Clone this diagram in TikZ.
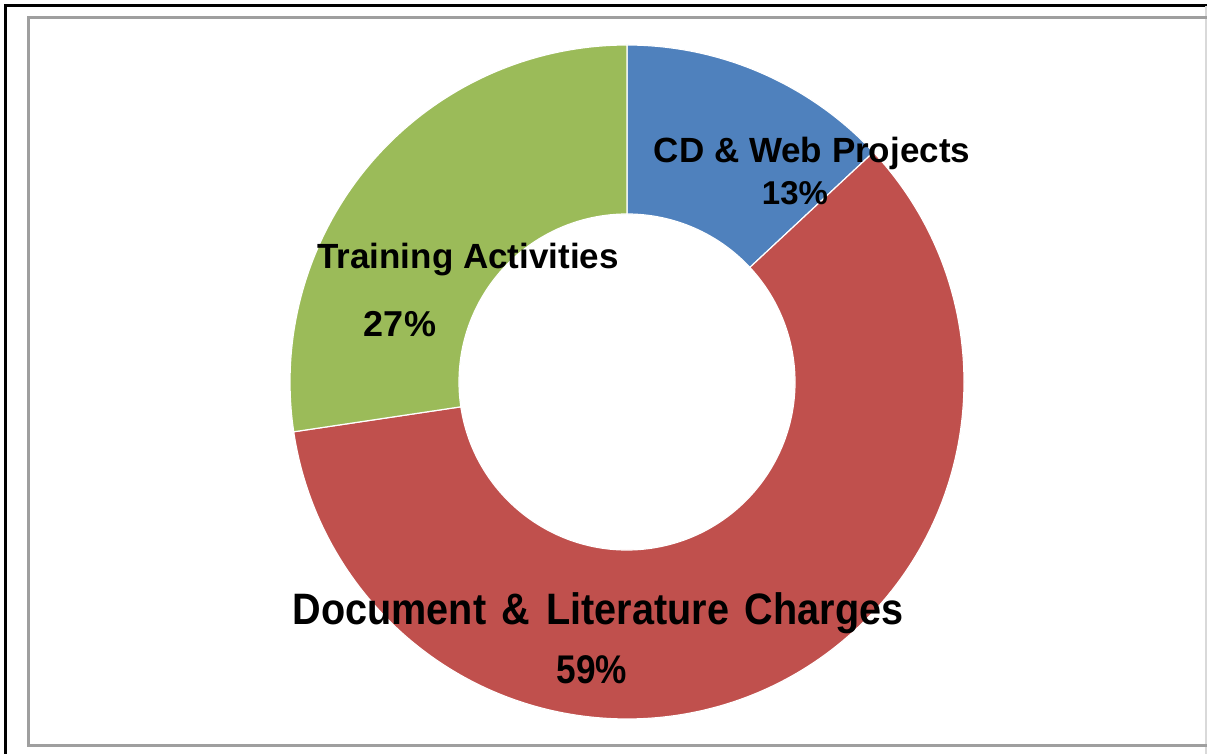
\documentclass[tikz,border=0pt]{standalone}
\usepackage{fontspec}
\setmainfont{Liberation Sans}
\usetikzlibrary{calc}

\definecolor{cdblue}{HTML}{4F81BD}
\definecolor{docred}{HTML}{C0504D}
\definecolor{traingreen}{HTML}{9BBB59}

\tikzset{
  lbl/.style={inner sep=0pt, font=\bfseries},
  slice/.style={draw=white, line width=0.6pt}
}

\begin{document}
\begin{tikzpicture}[x=0.5pt, y=0.5pt]
    \useasboundingbox (0,0) rectangle (1207,754);
    % frames
    \draw[line width=1.5pt] (1207,748) -- (5,748) -- (5,0);
    \draw[gray!30, line width=1pt] (1206,748) -- (1206,0);
    \draw[gray!75, line width=1.5pt] (1207,736) -- (28,736) -- (28,8) -- (1207,8);
    \coordinate (c) at (627,372);
    % ring
    \begin{scope}
      \fill[cdblue, slice] (c) ++(90:337) arc[start angle=90, end angle=43, radius=337]
        -- ($(c)+(43:168)$) arc[start angle=43, end angle=90, radius=168] -- cycle;
      \fill[docred, slice] (c) ++(43:337) arc[start angle=43, end angle=-171.5, radius=337]
        -- ($(c)+(-171.5:168)$) arc[start angle=-171.5, end angle=43, radius=168] -- cycle;
      \fill[traingreen, slice] (c) ++(188.5:337) arc[start angle=188.5, end angle=90, radius=337]
        -- ($(c)+(90:168)$) arc[start angle=90, end angle=188.5, radius=168] -- cycle;
    \end{scope}
    % labels
    \node[lbl, anchor=base] (cdname) at (812,591) {\fontsize{17.5}{20}\selectfont CD \& Web Projects};
    \node[lbl, anchor=base] (cdpct) at (795,549) {\fontsize{16.5}{20}\selectfont 13\%};
    \node[lbl, anchor=base] (trname) at (468,485) {\fontsize{17.5}{20}\selectfont Training Activities};
    \node[lbl, anchor=base] (trpct) at (400,417) {\fontsize{18}{20}\selectfont 27\%};
    \node[lbl, anchor=base] (docname) at (598,129) {\fontsize{22}{24}\selectfont\scalebox{0.9}[1]{Document\hspace{0.4em}\&\hspace{0.4em}Literature\hspace{0.4em}Charges}};
    \node[lbl, anchor=base] (docpct) at (592,70) {\fontsize{20}{24}\selectfont\scalebox{0.88}[1]{59\%}};
\end{tikzpicture}
\end{document}
